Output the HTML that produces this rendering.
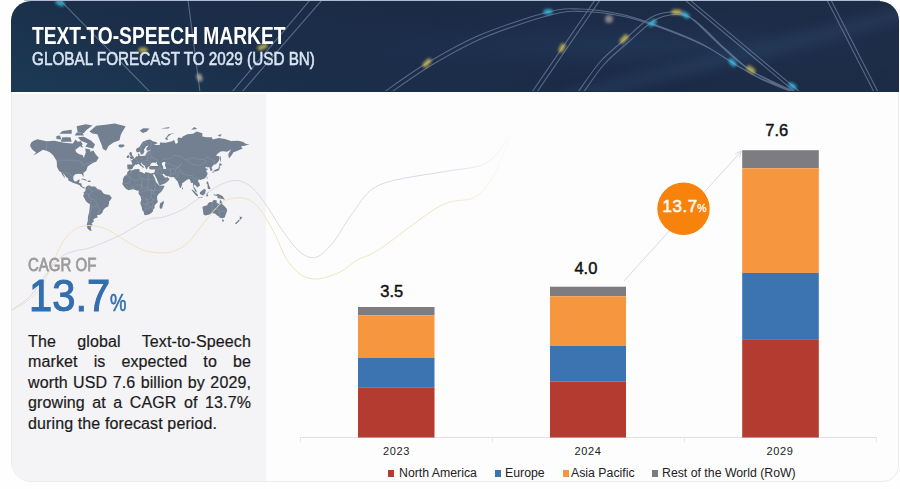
<!DOCTYPE html>
<html><head><meta charset="utf-8">
<style>
*{margin:0;padding:0;box-sizing:border-box}
html,body{width:900px;height:489px;background:#fefefe;overflow:hidden;font-family:"Liberation Sans",sans-serif;position:relative}
.abs{position:absolute}
#card{left:11px;top:1px;width:888px;height:481px;border-radius:20px 20px 16px 20px;background:#fdfdfd;overflow:hidden;border:1px solid #ececee}
#hdr{left:11px;top:1px;width:887.5px;height:90.5px;background:linear-gradient(20deg,#1c3a54 0%,#1b2f4a 25%,#1b2b46 55%,#1e2d46 100%);border-radius:20px 20px 0 0;overflow:hidden}
#left{left:12px;top:94px;width:253.5px;height:387px;background:#f4f3f5;border-radius:0 0 0 20px}
.t1{left:31.5px;top:21.9px;font-size:24.8px;font-weight:bold;color:#fff;white-space:nowrap;transform-origin:0 0;transform:scaleX(0.774)}
.t2{left:32px;top:48.4px;font-size:19.1px;color:#dbe5f2;white-space:nowrap;transform-origin:0 0;transform:scaleX(0.80);-webkit-text-stroke:0.55px #dbe5f2}
.cagr{left:27.8px;top:255.4px;font-size:18px;color:#9b9b9b;white-space:nowrap;transform-origin:0 0;transform:scaleX(0.834);-webkit-text-stroke:0.8px #9d9d9d}
.big{left:29.3px;top:271px;font-size:44px;color:#336fae;white-space:nowrap;transform-origin:0 0;transform:scaleX(0.948);-webkit-text-stroke:1.1px #336fae}
.pct{left:110px;top:289px;font-size:24px;color:#336fae;white-space:nowrap;transform-origin:0 0;transform:scaleX(0.77);-webkit-text-stroke:0.6px #336fae}
.para{left:28px;top:331.7px;font-size:16px;line-height:20.6px;color:#1b1b1b;width:223px;letter-spacing:0.12px;-webkit-text-stroke:0.2px #1b1b1b}
.para div{text-align:justify;text-align-last:justify;white-space:nowrap}
.para div.last{text-align-last:left}
.val{position:absolute;font-size:16.5px;color:#111;width:80px;text-align:center;-webkit-text-stroke:0.45px #111}
.yr{position:absolute;margin-top:1px;font-size:11px;color:#222;width:80px;text-align:center;letter-spacing:0.6px}
.lg{position:absolute;top:466px;font-size:12.3px;color:#222;white-space:nowrap}
.sq{position:absolute;width:6px;height:6.5px;top:470px}
</style></head><body>
<div id="card" class="abs"></div>
<div id="left" class="abs"></div>
<div class="abs" style="left:24px;top:0;width:856px;height:1px;background:#aebbd0"></div>
<div id="hdr" class="abs">
<svg width="888" height="90" viewBox="11 1 888 90" style="position:absolute;left:0;top:0">
<defs>
<filter id="bl" x="-50%" y="-50%" width="200%" height="200%"><feGaussianBlur stdDeviation="1.6"/></filter>
<filter id="bl2" x="-50%" y="-50%" width="200%" height="200%"><feGaussianBlur stdDeviation="6"/></filter>
<radialGradient id="rg1" cx="0.7" cy="0.5" r="0.45"><stop offset="0" stop-color="#25426b" stop-opacity="0.7"/><stop offset="1" stop-color="#1b2b48" stop-opacity="0"/></radialGradient>
</defs>
<rect x="11" y="1" width="888" height="90" fill="url(#rg1)" opacity="0.6"/>
<path d="M560,100 L920,10" stroke="#3b5a85" stroke-width="14" opacity="0.25" filter="url(#bl2)"/>
<g fill="none" stroke="#a9bedc" stroke-width="1.1" opacity="0.42">
<path d="M384.0,92.0 C391.2,87.2 411.0,72.5 427.0,63.0 C443.0,53.5 459.8,43.5 480.0,35.0 C500.2,26.5 531.3,16.3 548.0,12.0 C564.7,7.7 568.0,8.7 580.0,9.0 C592.0,9.3 607.3,11.3 620.0,14.0 C632.7,16.7 642.7,20.2 656.0,25.0 C669.3,29.8 687.2,36.7 700.0,43.0 C712.8,49.3 723.0,57.2 733.0,63.0 C743.0,68.8 749.7,73.2 760.0,78.0 C770.3,82.8 789.2,89.7 795.0,92.0 M388.0,94.5 C395.2,89.7 415.0,75.0 431.0,65.5 C447.0,56.0 463.8,46.0 484.0,37.5 C504.2,29.0 535.3,18.8 552.0,14.5 C568.7,10.2 572.0,11.2 584.0,11.5 C596.0,11.8 611.3,13.8 624.0,16.5 C636.7,19.2 646.7,22.7 660.0,27.5 C673.3,32.3 691.2,39.2 704.0,45.5 C716.8,51.8 727.0,59.7 737.0,65.5 C747.0,71.3 753.7,75.7 764.0,80.5 C774.3,85.3 793.2,92.2 799.0,94.5 M578.0,92.0 C581.7,87.0 592.3,70.7 600.0,62.0 C607.7,53.3 615.7,47.3 624.0,40.0 C632.3,32.7 642.3,22.7 650.0,18.0 C657.7,13.3 664.0,12.5 670.0,12.0 C676.0,11.5 681.0,12.7 686.0,15.0 C691.0,17.3 694.0,20.7 700.0,26.0 C706.0,31.3 713.7,39.7 722.0,47.0 C730.3,54.3 737.8,62.5 750.0,70.0 C762.2,77.5 787.5,88.3 795.0,92.0 M582.0,94.5 C585.7,89.5 596.3,73.2 604.0,64.5 C611.7,55.8 619.7,49.8 628.0,42.5 C636.3,35.2 646.3,25.2 654.0,20.5 C661.7,15.8 668.0,15.0 674.0,14.5 C680.0,14.0 685.0,15.2 690.0,17.5 C695.0,19.8 698.0,23.2 704.0,28.5 C710.0,33.8 717.7,42.2 726.0,49.5 C734.3,56.8 741.8,65.0 754.0,72.5 C766.2,80.0 791.5,90.8 799.0,94.5"/>
<path d="M532,92 L595,0 M537,92 L600,0"/>
<path d="M685,0 L795,92 M690,0 L800,92"/>
<path d="M827,0 L874,92 M831,0 L878,92"/>
<path d="M232,92 L310,0 M242,92 L322,0"/>
<path d="M60,0 L150,92 M188,0 L200,92"/>
</g>
<g filter="url(#bl)" stroke-linecap="round" stroke-width="5" opacity="0.8">
<path d="M425,65 L429,61" stroke="#d9c455"/>
<path d="M546,12 L550,11.5" stroke="#3ec6e8"/>
<path d="M561,50 L563,46" stroke="#d9c455"/>
<path d="M622,41 L626,37" stroke="#d9c455"/>
<path d="M651,24 L654,22" stroke="#3ec6e8"/>
<path d="M674,12 L679,12" stroke="#d9c455"/>
<path d="M684,14 L687,16" stroke="#3ec6e8"/>
<path d="M731,61 L734,64" stroke="#3ec6e8"/>
<path d="M749,68 L753,71" stroke="#d9c455"/>
<path d="M791,85 L794,87" stroke="#3ec6e8"/>
<path d="M58,2 L62,4" stroke="#3ec6e8"/>
<path d="M141,50 L145,50" stroke="#d9c455"/>
<path d="M199,76 L200,79" stroke="#c8c0b0"/>
<path d="M260,48 L265,46" stroke="#d9c455"/>
</g>
<circle cx="609" cy="19" r="4" fill="#e0c8c0" opacity="0.55" filter="url(#bl)"/>

</svg>
</div>
<div class="abs t1" id="t1">TEXT-TO-SPEECH MARKET</div>
<div class="abs t2" id="t2">GLOBAL FORECAST TO 2029 (USD BN)</div>
<svg class="abs" style="left:0;top:0" width="900" height="489">
<path fill="#728091" fill-rule="evenodd" d="M30.0,145.4 L31.2,142.4 L33.7,140.7 L37.4,139.3 L46.6,141.2 L54.5,140.7 L62.5,142.4 L66.8,142.9 L72.9,143.4 L75.4,139.6 L77.8,141.8 L80.9,141.3 L82.7,144.5 L79.7,146.5 L75.4,149.8 L76.0,152.0 L78.7,153.9 L82.7,155.2 L83.9,158.1 L84.6,155.6 L85.8,152.6 L85.2,148.6 L88.2,148.9 L90.4,149.8 L90.1,151.7 L93.4,150.5 L95.6,154.3 L98.7,157.7 L96.2,161.7 L93.8,162.5 L92.5,163.3 L90.1,164.8 L87.6,166.6 L86.4,170.5 L83.3,172.9 L83.9,177.0 L82.7,175.6 L81.5,174.0 L78.4,173.8 L75.4,174.3 L73.5,176.0 L73.2,179.2 L74.7,181.5 L77.2,181.3 L77.6,179.9 L79.7,179.6 L79.0,183.1 L81.5,183.4 L81.8,186.2 L84.3,187.4 L85.5,188.1 L83.9,188.5 L80.9,186.8 L79.3,185.0 L76.6,184.0 L73.5,183.1 L68.3,180.5 L68.3,178.6 L66.2,177.0 L64.0,174.3 L62.8,173.3 L65.6,178.6 L64.3,177.3 L62.5,175.3 L61.2,172.3 L59.1,170.9 L57.0,167.0 L56.7,160.9 L53.3,155.6 L50.2,152.6 L47.2,151.0 L42.9,149.8 L39.8,151.7 L36.1,153.9 L33.1,155.6 L36.1,152.6 L33.7,150.8 L31.8,148.9 L30.0,145.4Z M83.9,136.7 L91.3,140.7 L95.0,144.5 L93.1,148.4 L88.8,147.5 L85.2,146.5 L87.6,143.4 L80.9,140.7 L77.8,137.3Z M77.8,133.0 L83.9,133.0 L86.4,130.0 L92.5,125.5 L85.8,124.3 L76.6,126.2Z M60.6,141.8 L71.7,141.8 L70.5,137.3 L62.5,137.3Z M56.4,139.1 L61.3,139.6 L60.0,135.5 L56.4,136.1Z M74.7,135.5 L83.9,135.5 L82.7,133.0 L76.6,132.4Z M59.4,133.7 L71.7,133.7 L71.7,129.7 L62.5,131.1Z M80.3,147.0 L83.3,147.5 L81.5,145.0Z M89.5,131.4 L92.5,133.4 L97.4,134.3 L99.9,140.7 L101.7,145.0 L102.9,148.9 L106.0,150.8 L108.5,146.0 L113.4,142.4 L119.5,140.2 L120.7,134.9 L122.0,132.4 L125.6,126.2 L114.6,123.6 L105.4,124.7 L96.2,125.8Z M118.3,145.5 L119.5,144.5 L123.8,144.5 L124.7,146.0 L122.0,147.6 L119.2,147.2Z M80.9,179.3 L82.7,178.5 L85.8,179.4 L87.5,180.4 L85.4,180.6 L82.7,179.6Z M87.3,181.5 L88.4,180.6 L90.7,180.8 L91.1,181.5 L89.2,182.1Z M85.5,188.1 L86.7,186.3 L89.2,185.3 L91.3,186.5 L95.0,186.4 L96.2,187.8 L98.0,189.3 L101.1,189.9 L102.3,191.9 L103.6,193.6 L106.0,194.5 L109.1,194.8 L111.7,197.4 L111.2,198.9 L109.1,201.4 L109.0,204.0 L107.9,206.8 L105.4,207.8 L103.3,210.0 L102.3,212.7 L100.2,214.8 L97.1,215.1 L97.7,217.6 L95.0,218.3 L93.1,219.7 L94.1,221.0 L91.6,223.5 L92.6,224.7 L90.7,227.5 L91.0,228.7 L91.7,230.8 L90.1,230.8 L87.6,228.7 L86.7,225.1 L87.9,220.5 L87.9,216.9 L89.2,212.0 L90.0,204.5 L86.4,201.7 L83.1,196.1 L83.9,194.2 L83.6,192.4 L85.5,190.7 L85.6,189.0Z M129.4,170.0 L131.8,170.5 L134.8,169.3 L139.2,169.0 L139.7,170.4 L139.1,171.2 L142.2,172.4 L144.6,173.8 L145.2,172.3 L148.3,172.6 L150.8,173.4 L152.8,173.1 L153.0,174.0 L153.5,176.0 L154.7,178.0 L155.8,181.4 L156.9,183.1 L159.0,185.3 L159.5,185.6 L164.4,185.7 L164.4,186.6 L163.0,189.3 L161.2,191.8 L158.4,194.2 L157.0,196.7 L157.2,199.2 L157.8,202.3 L155.7,203.9 L154.4,206.1 L154.7,208.1 L152.9,209.7 L153.2,211.0 L151.4,212.9 L148.9,214.6 L145.2,215.3 L144.3,214.8 L143.7,212.0 L142.2,210.0 L141.7,207.1 L140.2,203.6 L141.3,199.8 L140.6,196.7 L138.5,193.6 L138.8,190.8 L136.7,190.4 L133.6,189.3 L130.5,189.8 L128.4,190.3 L125.9,188.7 L123.8,186.2 L122.3,183.9 L123.1,180.8 L122.6,179.9 L124.1,176.6 L127.0,174.3 L127.3,172.3Z M163.2,200.4 L163.9,202.6 L163.3,204.2 L161.9,208.7 L160.0,208.4 L159.5,206.8 L160.2,203.1 L161.8,202.6Z M127.2,164.8 L127.5,169.1 L129.3,169.5 L129.6,169.8 L131.8,169.3 L133.0,168.1 L133.0,167.0 L134.9,165.5 L134.8,164.5 L136.7,164.8 L138.2,163.8 L139.4,164.8 L140.6,165.9 L142.6,167.0 L142.8,168.4 L143.4,167.7 L144.3,166.9 L142.8,165.9 L141.6,165.1 L140.5,163.0 L141.3,162.7 L142.5,164.2 L144.9,165.7 L145.2,167.3 L146.5,169.5 L147.4,168.4 L147.7,167.0 L149.2,166.4 L150.8,166.3 L149.2,167.3 L149.0,168.1 L149.8,169.3 L151.7,169.6 L155.1,169.5 L154.9,170.9 L154.4,172.3 L153.9,173.1 L152.8,173.1 L153.0,174.0 L154.4,174.3 L155.4,176.3 L156.9,179.2 L158.1,182.4 L159.3,185.0 L160.6,185.1 L164.9,183.4 L167.0,182.1 L168.8,180.2 L169.6,178.9 L167.6,177.6 L167.5,176.3 L166.1,177.8 L164.6,177.6 L164.6,176.6 L163.6,176.3 L162.4,174.1 L163.6,173.8 L166.1,176.0 L167.9,176.1 L170.7,177.2 L173.7,177.0 L174.7,178.3 L176.2,180.0 L177.6,181.2 L178.3,183.4 L179.9,187.8 L180.8,188.0 L182.2,184.6 L182.0,183.2 L183.4,182.4 L186.0,180.5 L187.5,179.4 L189.3,179.1 L190.6,181.2 L190.9,183.1 L192.8,182.7 L193.2,185.0 L193.4,187.8 L194.5,189.6 L195.1,191.3 L196.4,192.2 L196.9,192.1 L196.3,190.2 L195.7,189.2 L194.6,187.8 L193.8,186.6 L194.3,184.6 L195.8,185.6 L197.3,187.6 L198.5,186.5 L199.9,185.8 L199.6,183.4 L198.4,182.1 L198.0,180.6 L199.2,179.6 L200.7,180.1 L202.3,179.2 L204.7,178.6 L206.5,176.4 L207.7,173.6 L206.9,172.3 L206.1,170.7 L208.1,169.1 L205.6,168.2 L205.1,167.7 L207.3,166.4 L207.5,167.8 L209.2,167.1 L209.8,168.8 L210.7,170.9 L212.3,170.2 L212.4,169.1 L211.4,168.1 L212.5,166.3 L213.7,164.8 L216.0,164.2 L219.1,160.6 L219.7,157.6 L219.1,156.3 L215.9,155.5 L217.3,154.1 L220.5,151.5 L223.7,151.3 L226.5,151.7 L228.0,151.2 L231.1,149.4 L228.6,153.5 L228.3,155.2 L229.0,158.5 L230.2,156.9 L232.3,154.3 L233.1,152.6 L237.5,150.8 L242.7,148.4 L240.9,146.5 L243.3,146.0 L247.6,145.0 L249.6,145.0 L245.2,143.4 L243.3,142.0 L238.4,140.7 L231.1,141.0 L224.9,139.1 L218.8,137.9 L212.7,139.6 L211.8,137.3 L206.5,137.3 L202.3,136.5 L202.4,133.3 L196.7,131.5 L193.1,133.7 L187.2,134.3 L182.3,136.7 L182.0,138.1 L178.3,137.4 L177.4,139.1 L178.0,142.5 L175.9,143.9 L175.0,142.4 L174.7,141.3 L173.7,139.9 L172.2,141.3 L169.8,141.8 L166.7,142.4 L165.8,142.7 L160.0,142.4 L159.8,144.9 L156.3,145.0 L153.8,144.4 L157.8,143.2 L155.4,141.7 L153.2,141.5 L150.1,139.6 L147.1,139.9 L142.8,141.8 L140.6,145.0 L139.4,147.0 L136.0,148.9 L136.4,151.7 L137.9,152.5 L139.4,151.4 L140.3,152.6 L141.0,154.8 L141.8,154.5 L143.1,153.9 L144.5,151.2 L143.8,149.7 L146.2,146.2 L148.5,145.5 L148.0,146.2 L146.2,148.4 L146.8,150.8 L148.9,150.4 L151.1,150.8 L147.4,151.5 L147.3,152.2 L146.2,153.2 L145.9,154.1 L145.1,155.7 L141.9,156.1 L139.7,156.1 L139.5,153.9 L138.3,153.4 L137.9,154.8 L138.4,156.1 L136.0,156.6 L135.1,158.1 L134.0,158.6 L132.2,159.7 L131.8,160.4 L130.2,160.5 L131.5,161.5 L132.2,163.6 L131.9,164.5 L127.3,164.6Z M150.1,166.1 L150.5,164.4 L151.4,162.9 L153.5,162.5 L155.4,163.0 L157.2,161.6 L156.5,163.6 L158.5,165.9 L155.1,165.9 L152.0,166.1Z M161.8,163.6 L163.0,162.1 L165.5,161.9 L164.9,165.5 L166.1,167.7 L166.0,168.9 L163.0,168.7 L163.3,166.8 L162.1,165.1Z M129.5,159.4 L133.8,158.4 L134.0,157.1 L133.0,156.5 L132.0,154.8 L131.8,152.9 L131.1,152.1 L129.9,152.1 L129.2,153.9 L130.0,155.4 L131.1,156.1 L130.2,156.7 L129.7,158.0 L131.0,158.3Z M129.3,157.6 L129.3,156.1 L128.4,155.0 L126.9,155.9 L126.7,158.0 L128.1,158.1Z M182.0,187.0 L183.1,188.4 L182.6,189.3 L181.9,189.0Z M213.2,171.2 L215.7,171.6 L218.5,170.5 L219.4,169.5 L220.0,167.3 L219.7,166.0 L218.8,166.6 L218.5,168.4 L217.0,169.1 L214.2,170.2Z M218.8,165.9 L219.7,163.0 L222.2,164.5 L220.9,165.5Z M212.4,171.6 L213.8,171.4 L213.3,173.3 L212.7,172.9Z M206.6,178.6 L207.2,177.2 L207.8,177.3 L207.0,179.2Z M206.9,181.5 L208.0,181.5 L209.0,185.3 L210.5,188.4 L209.9,189.3 L207.8,188.7 L207.5,184.6 L206.4,183.2Z M199.8,192.1 L201.0,191.5 L204.1,188.7 L205.9,189.9 L205.3,192.4 L204.4,194.2 L204.1,195.5 L201.0,194.8 L200.1,193.9Z M191.4,189.6 L192.8,189.8 L196.4,193.3 L198.0,194.8 L197.8,196.6 L196.7,196.1 L194.9,194.2 L193.1,192.1Z M197.5,197.2 L199.2,196.9 L201.9,197.2 L203.2,197.8 L201.0,198.1 L198.0,197.6Z M206.2,196.4 L206.9,192.7 L209.6,192.1 L207.2,193.6 L208.4,195.8 L206.9,196.4Z M213.3,193.6 L215.7,195.1 L217.6,194.0 L219.4,194.6 L222.5,196.1 L223.7,197.9 L225.2,199.5 L223.1,199.2 L220.6,198.6 L219.4,198.6 L217.6,198.1 L217.3,196.1 L214.5,195.5 L213.9,194.5Z M202.4,206.8 L202.9,209.7 L203.5,214.4 L205.2,215.5 L208.7,214.7 L212.1,213.1 L215.1,213.7 L217.5,215.8 L218.5,216.2 L219.7,217.8 L222.8,218.3 L224.9,217.2 L225.7,214.6 L227.1,211.0 L226.8,208.7 L224.3,206.1 L222.5,204.5 L222.1,202.3 L220.3,199.6 L219.7,201.4 L219.7,203.9 L218.4,203.8 L216.4,202.3 L217.0,200.5 L214.5,199.9 L213.0,200.6 L212.1,202.3 L209.9,202.0 L207.9,203.6 L207.2,205.2 L204.5,205.9 L202.7,206.8Z M221.7,219.5 L223.9,219.7 L223.7,221.4 L222.5,221.7Z M238.8,215.0 L240.0,216.5 L242.4,217.4 L241.5,218.5 L240.3,220.0 L240.1,218.9 L239.5,218.4 L240.0,217.1Z M238.8,219.4 L239.8,220.1 L239.0,221.6 L237.8,222.4 L236.6,224.0 L235.0,223.5 L235.7,222.4 L237.5,221.2 L238.4,219.7Z M139.7,130.4 L143.4,128.2 L149.5,128.4 L146.5,131.7 L142.8,133.0Z M164.9,139.1 L166.7,136.7 L168.5,134.3 L174.7,132.7 L171.0,134.3 L167.3,137.3 L167.9,140.2Z M191.2,129.7 L197.3,129.1 L194.3,126.9Z M217.6,134.9 L221.9,134.3 L220.0,136.7Z M160.6,128.4 L169.8,126.9 L168.5,128.4Z M220.0,162.5 L220.9,159.8 L220.6,155.8 L220.0,156.5 L220.0,160.9Z"/>
<path fill="none" stroke="#e4e8ef" stroke-width="0.45" opacity="0.28" d="M57.6,160.2 L74.7,160.2 L78.4,160.9 L82.1,162.5 L82.4,165.1 L84.6,164.8 L87.0,163.3 L89.5,163.3 L91.4,161.7 L91.9,163.3 M46.6,150.8 L46.6,141.2 M61.2,172.3 L64.9,173.1 L66.8,173.1 L67.7,172.7 L69.8,174.6 L72.0,176.0 L73.4,176.7 M101.4,190.5 L96.2,189.9 L91.9,191.8 L90.4,193.6 L88.2,195.5 L90.1,198.6 L93.1,199.2 L95.6,201.7 L97.4,203.6 L97.7,206.8 L99.3,208.1 L99.9,210.0 L98.0,212.0 L100.2,214.6 M91.0,206.8 L91.0,210.0 L90.1,213.4 L89.5,219.0 L88.8,224.3 L90.7,227.5 M90.7,199.8 L90.7,204.2 L90.1,204.4 M91.0,206.8 L94.7,206.8 L97.4,205.5 M88.8,185.6 L88.5,188.7 L91.6,189.3 L91.9,191.8 M83.6,193.6 L87.0,193.6 L90.1,195.5 M150.1,141.3 L151.4,143.4 L150.1,150.3 M150.1,150.3 L150.1,154.3 L152.6,157.7 L157.5,159.8 L156.6,161.7 M162.4,159.4 L166.7,159.0 L170.4,158.5 L174.7,155.2 L179.6,156.1 L186.3,160.0 M186.3,160.0 L193.1,157.7 L198.6,159.4 L204.1,159.4 L206.5,156.9 L210.8,159.4 L215.1,160.9 L213.3,164.8 M186.3,160.0 L191.8,164.0 L197.3,165.5 L201.6,164.8 L206.5,161.7 L204.1,159.4 M182.0,163.3 L178.0,167.3 M178.0,167.3 L180.8,170.5 L182.0,173.3 L186.9,175.3 L189.4,175.6 L192.4,175.3 M192.4,175.3 L193.1,177.9 L195.5,178.9 L198.0,178.7 L199.2,179.6 M174.7,178.3 L176.5,177.3 L178.3,172.6 L180.2,170.5 M160.0,167.3 L161.8,169.1 L161.2,171.9 L162.4,174.0 M170.4,169.1 L170.4,173.3 L171.0,177.2 M175.9,169.1 L175.6,171.9 L173.4,174.3 L171.0,174.3 M155.4,174.3 L156.9,172.6 L161.8,174.6 L162.4,175.3 M159.3,182.4 L164.9,181.2 L167.0,180.5 M164.9,181.2 L166.7,178.9 L167.3,177.9 M155.1,169.5 L158.7,169.1 L160.3,168.9 L160.0,167.3 L158.5,165.9 M158.7,169.1 L158.1,171.2 L156.9,172.6 M166.7,163.3 L169.8,164.0 L174.7,166.3 L178.0,167.3 L182.0,163.3 M166.0,168.9 L170.4,169.5 L170.4,169.1 L172.8,168.8 L175.9,169.1 L178.0,167.3 M131.9,164.5 L134.9,165.2 M137.9,160.2 L137.6,161.3 L136.7,162.3 M141.7,156.1 L142.1,158.5 L140.3,159.1 M136.7,162.3 L139.1,162.1 L141.3,162.1 L143.4,160.9 L146.5,160.6 L148.9,160.9 L150.1,162.5 L151.4,162.9 M144.6,155.7 L147.4,156.1 L147.7,159.0 L146.8,160.9 M147.7,158.1 L152.6,157.7 M146.8,164.0 L150.1,164.2 M146.2,153.2 L150.1,154.2 M145.9,154.1 L148.9,154.8 M140.3,151.7 L140.6,148.9 L141.9,145.5 L144.0,142.4 L145.6,141.8 M145.6,141.8 L147.7,145.2 M141.3,162.7 L144.6,162.9 L146.8,164.0 L145.6,166.3 M134.8,159.0 L137.9,160.2 M131.9,170.5 L131.9,172.6 L127.7,174.8 L127.7,175.8 L125.0,175.5 M138.8,174.0 L140.2,178.3 L136.5,180.8 L135.4,181.2 L130.0,177.3 M148.3,172.6 L148.3,179.2 L155.5,179.2 M148.3,180.5 L142.2,178.3 L140.2,178.3 M148.3,179.2 L147.7,187.8 L153.2,190.8 L154.7,189.9 L155.7,184.3 L156.6,181.8 M142.2,178.3 L141.6,185.0 L141.0,188.7 L138.5,190.2 M130.0,177.3 L129.6,182.7 L125.6,183.8 L122.6,183.8 M127.7,175.8 L130.0,177.3 M128.1,190.2 L128.1,188.1 L126.2,185.6 M131.1,189.9 L131.1,186.2 L133.0,186.2 L134.2,189.1 M135.4,185.0 L141.6,185.0 M141.6,185.0 L142.5,188.4 L147.7,187.8 M140.3,196.1 L144.0,197.9 L147.7,199.8 L151.1,197.9 L151.4,193.6 L151.1,190.2 L149.5,189.9 L144.3,190.8 L143.4,191.8 L140.3,192.3 L138.7,192.4 M154.7,189.9 L158.1,190.5 L160.6,189.9 L162.4,188.1 L159.3,185.9 M153.8,193.6 L157.0,195.8 M151.7,198.2 L154.1,200.1 L157.8,199.5 M140.2,203.6 L145.2,203.9 L147.7,203.9 L148.3,202.3 L146.5,201.0 L146.5,199.5 L147.7,199.8 M148.3,202.3 L151.7,202.6 L153.2,199.2 L151.7,198.2 M151.7,202.6 L153.2,203.6 L152.9,207.0 L152.2,207.0 L149.5,206.8 L148.3,203.9 M145.2,206.8 L145.2,211.0 L143.1,211.0 M145.2,206.8 L145.9,204.2 L147.7,203.9 M145.2,208.6 L148.6,209.0 L149.5,206.8 M152.2,207.0 L152.6,209.7 M151.1,190.2 L153.8,190.4 L153.8,193.6 L151.4,193.6 M212.1,202.3 L212.1,213.1 M212.1,209.4 L219.4,209.4 M217.6,209.4 L217.6,203.3 M219.4,209.4 L219.4,217.8 M219.4,211.4 L224.9,211.4 L227.1,210.8 M219.4,194.6 L219.4,198.6 M203.5,190.2 L205.3,190.2"/>
<defs>
<linearGradient id="fadeG" gradientUnits="userSpaceOnUse" x1="440" y1="0" x2="512" y2="0"><stop offset="0" stop-color="#ece2b8" stop-opacity="1"/><stop offset="1" stop-color="#ece2b8" stop-opacity="0.1"/></linearGradient>
<linearGradient id="fadeL" gradientUnits="userSpaceOnUse" x1="440" y1="0" x2="512" y2="0"><stop offset="0" stop-color="#d9d4e0" stop-opacity="1"/><stop offset="1" stop-color="#d9d4e0" stop-opacity="0.1"/></linearGradient>
</defs>
<path d="M12.0,310.0 C14.4,308.6 21.8,305.6 26.6,301.8 C31.4,298.1 36.8,293.3 40.9,287.5 C45.0,281.7 47.7,274.2 51.1,267.0 C54.5,259.8 57.5,250.6 61.3,244.5 C65.0,238.4 69.1,233.4 73.6,230.2 C78.0,227.0 82.5,225.7 88.0,225.5 C93.5,225.3 100.5,226.8 106.3,229.0 C112.1,231.2 116.4,235.3 122.7,238.9 C129.0,242.5 136.7,248.0 144.0,250.3 C151.3,252.6 160.0,253.5 166.8,252.7 C173.6,251.9 179.6,249.1 184.8,245.4 C190.0,241.7 193.7,235.8 197.9,230.7 C202.1,225.6 205.8,219.9 210.0,215.1 C214.2,210.3 218.5,204.9 223.0,202.0 C227.5,199.1 232.5,198.2 236.8,197.8 C241.1,197.5 244.9,197.7 249.0,199.9 C253.1,202.1 256.9,205.1 261.3,211.1 C265.8,217.1 271.6,227.9 275.7,235.7 C279.8,243.5 281.8,251.6 285.9,258.0 C289.9,264.4 294.9,270.5 300.0,274.0 C305.1,277.5 310.1,279.3 316.8,279.0 C323.5,278.7 333.5,275.1 340.0,272.0 C346.5,268.9 349.3,264.6 356.0,260.7 C362.7,256.8 366.0,258.0 380.0,248.9 C394.0,239.8 424.2,214.6 440.0,206.0 C455.8,197.4 465.7,202.5 474.7,197.3 C483.7,192.1 488.3,184.7 494.0,175.0 C499.7,165.3 506.5,145.3 509.0,139.4" fill="none" stroke="url(#fadeG)" stroke-width="0.9"/>
<path d="M12.0,310.0 C15.1,307.6 24.9,301.8 30.7,295.7 C36.5,289.6 41.9,279.7 47.0,273.2 C52.1,266.7 56.5,260.6 61.3,256.8 C66.1,253.1 70.9,252.2 75.7,250.7 C80.5,249.2 82.7,250.3 90.0,247.8 C97.3,245.3 109.9,240.2 119.4,235.6 C128.9,231.0 139.8,223.1 147.2,220.0 C154.6,216.9 157.9,218.7 163.6,217.0 C169.3,215.3 175.8,213.0 181.5,210.0 C187.2,207.0 193.2,202.2 197.9,199.0 C202.7,195.8 206.0,193.5 210.0,191.0 C214.0,188.5 217.5,185.8 222.0,184.0 C226.5,182.2 232.0,179.9 237.0,180.5 C242.0,181.1 246.9,183.1 252.0,187.5 C257.1,191.9 262.5,200.0 267.5,207.0 C272.5,214.0 276.4,222.0 281.8,229.5 C287.2,237.0 294.2,247.4 300.0,252.0 C305.8,256.6 311.0,259.0 316.8,257.0 C322.6,255.0 328.9,247.6 335.0,240.0 C341.1,232.4 346.0,220.9 353.5,211.7 C361.0,202.5 364.8,191.4 380.0,184.7 C395.2,178.0 428.1,174.7 444.6,171.6 C461.1,168.5 470.4,168.8 479.0,166.0 C487.6,163.2 491.0,160.0 496.0,155.0 C501.0,150.0 506.8,139.2 509.0,136.0" fill="none" stroke="url(#fadeL)" stroke-width="0.9"/>
</svg>
<div class="abs cagr" id="cagr">CAGR OF</div>
<div class="abs big" id="big">13.7</div>
<div class="abs pct" id="pct">%</div>
<div class="abs para" id="para">
<div>The global Text-to-Speech</div>
<div>market is expected to be</div>
<div>worth USD 7.6 billion by 2029,</div>
<div>growing at a CAGR of 13.7%</div>
<div class="last">during the forecast period.</div>
</div>
<svg class="abs" style="left:0;top:0" width="900" height="489">
<line x1="300" y1="437.5" x2="876" y2="437.5" stroke="#e0e0e0" stroke-width="1"/>
<line x1="300.5" y1="437" x2="300.5" y2="442" stroke="#e6e6e6"/>
<line x1="492.5" y1="437" x2="492.5" y2="442" stroke="#e6e6e6"/>
<line x1="684.5" y1="437" x2="684.5" y2="442" stroke="#e6e6e6"/>
<line x1="876.5" y1="437" x2="876.5" y2="442" stroke="#e6e6e6"/>
<rect x="358" y="307" width="76.5" height="8.2" fill="#7d7c80"/>
<rect x="358" y="315.2" width="76.5" height="42.6" fill="#f6973f"/>
<rect x="358" y="357.8" width="76.5" height="29.5" fill="#3b74b0"/>
<rect x="358" y="387.3" width="76.5" height="50.2" fill="#b33b2f"/>
<rect x="550" y="286.7" width="76" height="9.6" fill="#7d7c80"/>
<rect x="550" y="296.3" width="76" height="49.6" fill="#f6973f"/>
<rect x="550" y="345.9" width="76" height="35.5" fill="#3b74b0"/>
<rect x="550" y="381.4" width="76" height="56.1" fill="#b33b2f"/>
<rect x="742.2" y="150.2" width="76.6" height="18.1" fill="#7d7c80"/>
<rect x="742.2" y="168.3" width="76.6" height="104.6" fill="#f6973f"/>
<rect x="742.2" y="272.9" width="76.6" height="66.3" fill="#3b74b0"/>
<rect x="742.2" y="339.2" width="76.6" height="98.3" fill="#b33b2f"/>
<path d="M624,281 L741.3,151.2 M735.2,153.8 L741.3,151.2 L739.6,157.6" fill="none" stroke="#d6d6d6" stroke-width="0.9"/>
<circle cx="683.5" cy="208.7" r="26.2" fill="#f7820c"/>
</svg>
<div class="val" style="left:351.7px;top:281.5px">3.5</div>
<div class="val" style="left:545.9px;top:258.5px">4.0</div>
<div class="val" style="left:736.8px;top:121px">7.6</div>
<div class="abs" style="left:662.5px;top:196.6px;font-size:17px;color:#fffaf0;white-space:nowrap;letter-spacing:0.5px;-webkit-text-stroke:0.6px #fffaf0">13.7<span style="font-size:10.5px;letter-spacing:0;-webkit-text-stroke:0.35px #fffaf0;margin-left:-0.3px">%</span></div>
<div class="yr" style="left:356.5px;top:444px">2023</div>
<div class="yr" style="left:548px;top:444px">2024</div>
<div class="yr" style="left:740px;top:444px">2029</div>
<div class="sq" style="left:388px;background:#b33b2f"></div><div class="lg" style="left:399px">North America</div>
<div class="sq" style="left:495px;background:#3b74b0"></div><div class="lg" style="left:505px">Europe</div>
<div class="sq" style="left:563px;background:#f6973f"></div><div class="lg" style="left:571px">Asia Pacific</div>
<div class="sq" style="left:652px;background:#7b7a7e"></div><div class="lg" style="left:662px">Rest of the World (RoW)</div>
</body></html>
